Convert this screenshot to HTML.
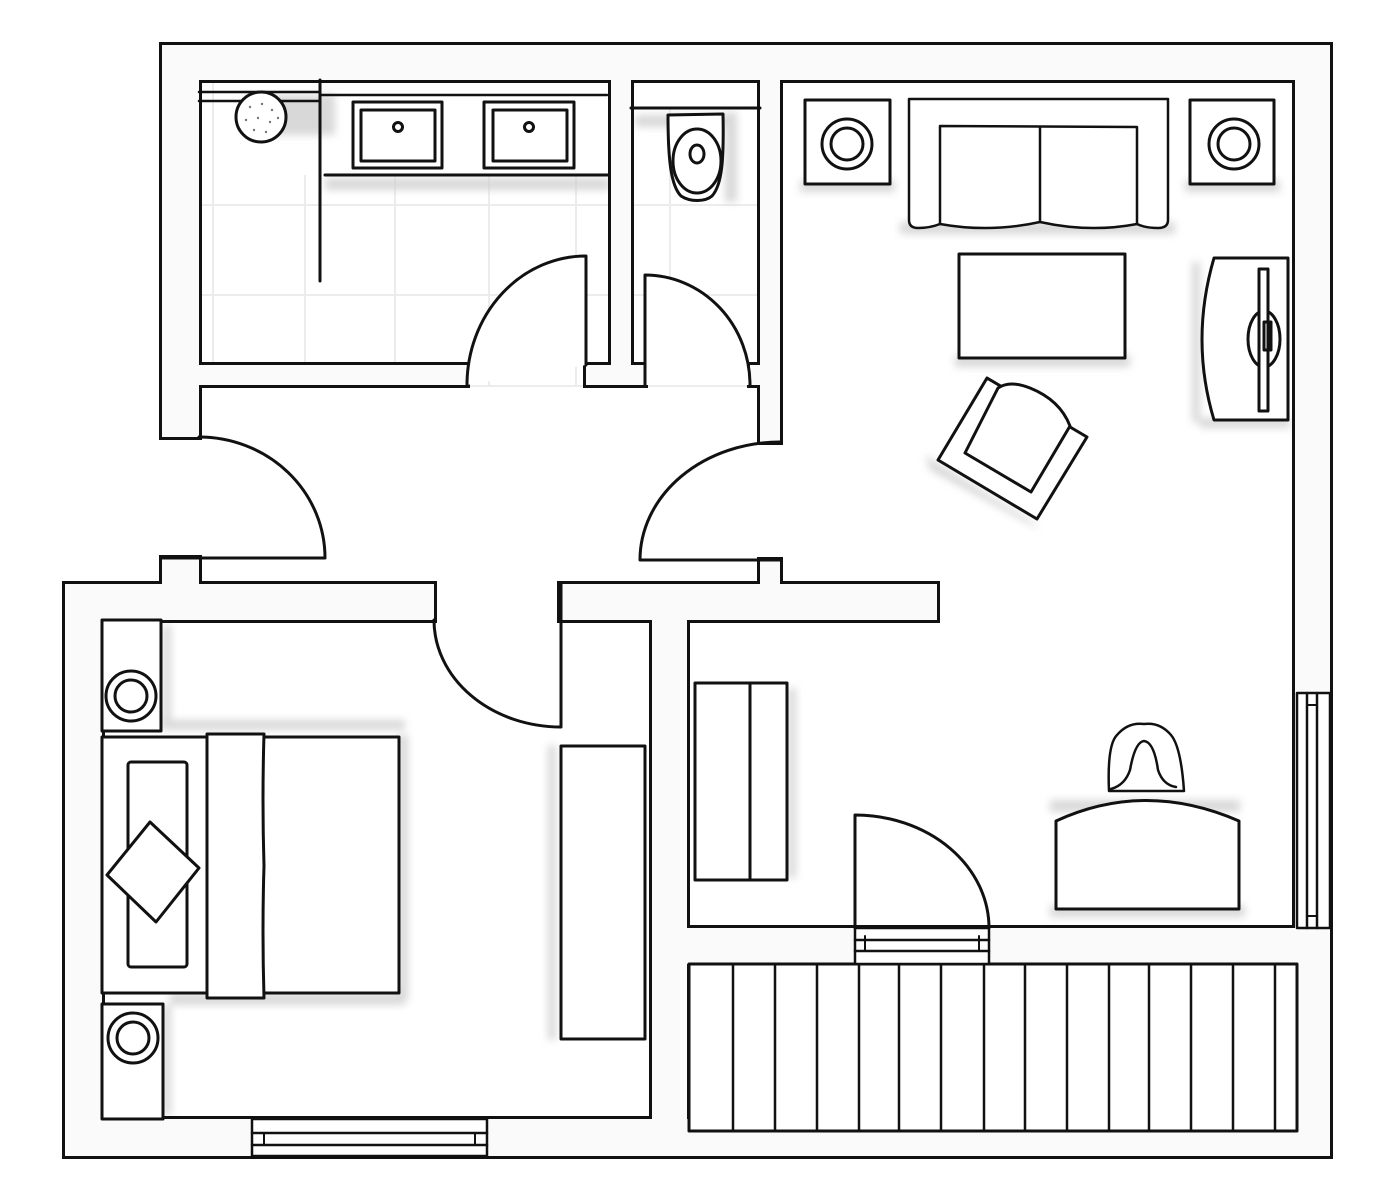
<!DOCTYPE html>
<html><head><meta charset="utf-8"><style>html,body{margin:0;padding:0;background:#fff}svg{display:block}</style></head>
<body>
<svg width="1388" height="1204" viewBox="0 0 1388 1204" xmlns="http://www.w3.org/2000/svg">
<defs><filter id="b" x="-20%" y="-20%" width="140%" height="140%"><feGaussianBlur stdDeviation="4"/></filter></defs>
<rect width="1388" height="1204" fill="#fff"/>

<!-- tiles -->
<g stroke="#ececec" stroke-width="2">
<line x1="213" y1="80" x2="213" y2="365"/><line x1="305" y1="175" x2="305" y2="365"/><line x1="395" y1="175" x2="395" y2="385"/><line x1="489" y1="175" x2="489" y2="385"/><line x1="576" y1="175" x2="576" y2="385"/><line x1="670" y1="108" x2="670" y2="385"/>
<line x1="199" y1="205" x2="760" y2="205"/><line x1="199" y1="295" x2="760" y2="295"/><line x1="199" y1="386" x2="760" y2="386"/>
</g>

<!-- shadows -->
<g fill="#cfcfcf" filter="url(#b)" opacity="0.8">
<rect x="245" y="95" width="90" height="40"/><rect x="325" y="178" width="285" height="12"/>
<rect x="725" y="112" width="12" height="90"/><rect x="635" y="115" width="100" height="12"/>
<rect x="800" y="180" width="95" height="12"/><rect x="900" y="222" width="275" height="12"/><rect x="1185" y="180" width="95" height="12"/>
<rect x="955" y="355" width="175" height="12"/><rect x="1192" y="262" width="8" height="160"/><rect x="1200" y="418" width="90" height="10"/>
<polygon points="925,455 1030,520 1040,530 930,470"/>
<rect x="788" y="688" width="8" height="190"/><rect x="1050" y="905" width="195" height="12"/><rect x="1050" y="800" width="190" height="12"/>
<rect x="690" y="966" width="605" height="12"/><rect x="690" y="1115" width="605" height="12"/>
<rect x="163" y="625" width="8" height="105"/><rect x="163" y="1005" width="8" height="110"/>
<rect x="160" y="720" width="245" height="10"/><rect x="398" y="735" width="10" height="265"/><rect x="170" y="993" width="235" height="12"/>
<rect x="548" y="745" width="8" height="295"/>
</g>

<!-- walls: stroked then filled -->
<g id="walls" stroke="#111" stroke-width="6" fill="#fafafa">
<rect x="162" y="45" width="1168" height="35"/>
<rect x="162" y="45" width="37" height="392"/>
<rect x="1295" y="45" width="35" height="1111"/>
<rect x="611" y="60" width="20" height="315"/>
<rect x="586" y="365" width="59" height="20"/>
<rect x="199" y="365" width="268" height="20"/>
<rect x="760" y="60" width="20" height="382"/>
<rect x="750" y="365" width="30" height="20"/>
<rect x="760" y="560" width="20" height="25"/>
<rect x="560" y="584" width="377" height="36"/>
<rect x="162" y="558" width="37" height="27"/>
<rect x="65" y="584" width="369" height="36"/>
<rect x="65" y="584" width="37" height="572"/>
<rect x="65" y="1119" width="624" height="37"/>
<rect x="652" y="1131" width="678" height="25"/>
<rect x="652" y="620" width="35" height="536"/>
<rect x="687" y="928" width="643" height="36"/>
</g>
<g fill="#fafafa" stroke="none">
<rect x="162" y="45" width="1168" height="35"/>
<rect x="162" y="45" width="37" height="392"/>
<rect x="1295" y="45" width="35" height="1111"/>
<rect x="611" y="60" width="20" height="315"/>
<rect x="586" y="365" width="59" height="20"/>
<rect x="199" y="365" width="268" height="20"/>
<rect x="760" y="60" width="20" height="382"/>
<rect x="750" y="365" width="30" height="20"/>
<rect x="760" y="560" width="20" height="25"/>
<rect x="560" y="584" width="377" height="36"/>
<rect x="162" y="558" width="37" height="27"/>
<rect x="65" y="584" width="369" height="36"/>
<rect x="65" y="584" width="37" height="572"/>
<rect x="65" y="1119" width="624" height="37"/>
<rect x="652" y="1131" width="678" height="25"/>
<rect x="652" y="620" width="35" height="536"/>
<rect x="687" y="928" width="643" height="36"/>
</g>

<g fill="none" stroke="#111" stroke-width="3" stroke-linejoin="round" stroke-linecap="round">
<!-- balcony -->
<rect x="689" y="964" width="608" height="167" fill="#fff"/>
<g stroke-width="2.5">
<line x1="733" y1="964" x2="733" y2="1131"/><line x1="775" y1="964" x2="775" y2="1131"/><line x1="817" y1="964" x2="817" y2="1131"/><line x1="859" y1="964" x2="859" y2="1131"/><line x1="899" y1="964" x2="899" y2="1131"/><line x1="941" y1="964" x2="941" y2="1131"/><line x1="984" y1="964" x2="984" y2="1131"/><line x1="1025" y1="964" x2="1025" y2="1131"/><line x1="1067" y1="964" x2="1067" y2="1131"/><line x1="1109" y1="964" x2="1109" y2="1131"/><line x1="1149" y1="964" x2="1149" y2="1131"/><line x1="1191" y1="964" x2="1191" y2="1131"/><line x1="1233" y1="964" x2="1233" y2="1131"/><line x1="1275" y1="964" x2="1275" y2="1131"/>
</g>
<!-- balcony door -->
<rect x="855" y="928" width="134" height="36" fill="#fff" stroke-width="2.5"/>
<line x1="855" y1="940" x2="989" y2="940" stroke-width="2.5"/><line x1="855" y1="951" x2="989" y2="951" stroke-width="2.5"/>
<line x1="865" y1="936" x2="865" y2="951" stroke-width="2"/><line x1="979" y1="936" x2="979" y2="951" stroke-width="2"/>
<path d="M855,928 L855,815 A134 113 0 0 1 989,928" />
<!-- bedroom window -->
<rect x="252" y="1119" width="235" height="37" fill="#fff" stroke-width="2.5"/>
<line x1="252" y1="1133" x2="487" y2="1133" stroke-width="2.5"/><line x1="252" y1="1145" x2="487" y2="1145" stroke-width="2.5"/>
<line x1="264" y1="1133" x2="264" y2="1145" stroke-width="2"/><line x1="475" y1="1133" x2="475" y2="1145" stroke-width="2"/>
<!-- right window -->
<rect x="1297" y="693" width="33" height="235" fill="#fff" stroke-width="2.5"/>
<line x1="1307" y1="693" x2="1307" y2="928" stroke-width="2.5"/><line x1="1317" y1="693" x2="1317" y2="928" stroke-width="2.5"/>
<line x1="1307" y1="705" x2="1317" y2="705" stroke-width="2"/><line x1="1307" y1="916" x2="1317" y2="916" stroke-width="2"/>

<!-- doors -->
<path d="M586,365 L586,256 A119 129 0 0 0 467,385" fill="#fff"/>
<path d="M645,385 L645,275 A105 110 0 0 1 750,385" fill="#fff"/>
<path d="M199,437 A126 121 0 0 1 325,558 L162,558"/>
<path d="M780,442 A140 118 0 0 0 640,560 L780,560"/>
<path d="M434,620 A127 107 0 0 0 561,727 L561,584"/>

<!-- bathroom -->
<line x1="199" y1="92" x2="320" y2="92" stroke-width="2.5"/><line x1="199" y1="101" x2="320" y2="101" stroke-width="2.5"/>
<line x1="320" y1="80" x2="320" y2="281"/>
<line x1="320" y1="95" x2="607" y2="95" stroke-width="2.5"/>
<line x1="325" y1="175" x2="608" y2="175"/>
<ellipse cx="261" cy="117" rx="25" ry="25" fill="#fff"/>
<g fill="#777" stroke="none"><circle cx="250" cy="107" r="1.2"/><circle cx="262" cy="104" r="1.2"/><circle cx="272" cy="110" r="1.2"/><circle cx="246" cy="120" r="1.2"/><circle cx="258" cy="118" r="1.2"/><circle cx="270" cy="122" r="1.2"/><circle cx="254" cy="130" r="1.2"/><circle cx="266" cy="132" r="1.2"/><circle cx="278" cy="118" r="1.2"/></g>
<rect x="353" y="102" width="89" height="66" fill="#fff"/><rect x="361" y="110" width="74" height="51"/><circle cx="398" cy="127" r="4.5"/>
<rect x="484" y="102" width="90" height="66" fill="#fff"/><rect x="493" y="110" width="74" height="51"/><circle cx="529" cy="127" r="4.5"/>
<!-- toilet -->
<line x1="631" y1="108" x2="760" y2="108"/>
<path d="M668,115 L723,114 C724,160 722,185 712,196 C705,202 690,202 681,196 C671,186 668,160 668,115 Z" fill="#fff"/>
<ellipse cx="697" cy="161" rx="24" ry="32"/><ellipse cx="697" cy="154" rx="7" ry="9"/>

<!-- living -->
<rect x="805" y="100" width="85" height="84" fill="#fff"/><circle cx="847" cy="144" r="25"/><circle cx="847" cy="144" r="16"/>
<rect x="1190" y="100" width="84" height="84" fill="#fff"/><circle cx="1234" cy="144" r="25"/><circle cx="1234" cy="144" r="16"/>
<path d="M909,99 L1168,99 L1168,220 Q1168,228 1158,228 Q1145,228 1137,224 Q1090,233 1040,222 Q990,233 940,224 Q930,228 918,228 Q909,228 909,220 Z" fill="#fff" stroke-width="2.5"/>
<path d="M940,224 L940,126 L1137,127 L1137,224" stroke-width="2.5"/><line x1="1040" y1="127" x2="1040" y2="222" stroke-width="2.5"/>
<rect x="959" y="254" width="166" height="104" fill="#fff"/>
<path d="M1214,258 L1288,258 L1288,420 L1214,420 Q1190,340 1214,258 Z" fill="#fff"/>
<ellipse cx="1264" cy="339" rx="16" ry="28"/>
<rect x="1259" y="269" width="9" height="142" fill="#fff"/>
<rect x="1264" y="322" width="7" height="28"/>
<polygon points="987,378 1087,437 1037,519 938,460" fill="#fff"/>
<path d="M998,388 Q1010,380 1030,388 Q1060,400 1070,426 L1031,492 L965,453 Z" fill="#fff"/>

<!-- lower living -->
<rect x="695" y="683" width="92" height="197" fill="#fff"/><line x1="750" y1="683" x2="750" y2="880"/>
<path d="M1056,909 L1056,821 Q1145,780 1239,821 L1239,909 Z" fill="#fff"/>
<path d="M1109,791 Q1107,745 1117,735 Q1128,722 1144,724 Q1160,722 1171,735 Q1181,747 1184,791 Z" fill="#fff" stroke-width="2.5"/>
<path d="M1111,789 Q1125,785 1130,770 Q1135,742 1144,741 Q1154,742 1158,770 Q1163,785 1176,787" stroke-width="2.5"/>

<!-- bedroom -->
<rect x="102" y="620" width="59" height="111" fill="#fff"/><circle cx="131" cy="696" r="25"/><circle cx="131" cy="696" r="16"/>
<rect x="102" y="1004" width="61" height="115" fill="#fff"/><circle cx="133" cy="1038" r="25"/><circle cx="133" cy="1038" r="16"/>
<rect x="102" y="737" width="297" height="256" fill="#fff"/>
<rect x="128" y="762" width="59" height="205" rx="3"/>
<polygon points="150,822 199,868 156,922 107,875" fill="#fff"/>
<path d="M207,734 L264,734 Q262,800 264,866 Q262,930 264,998 L207,998 Z" fill="#fff"/>
<rect x="561" y="746" width="84" height="293" fill="#fff"/>
</g>
</svg>
</body></html>
